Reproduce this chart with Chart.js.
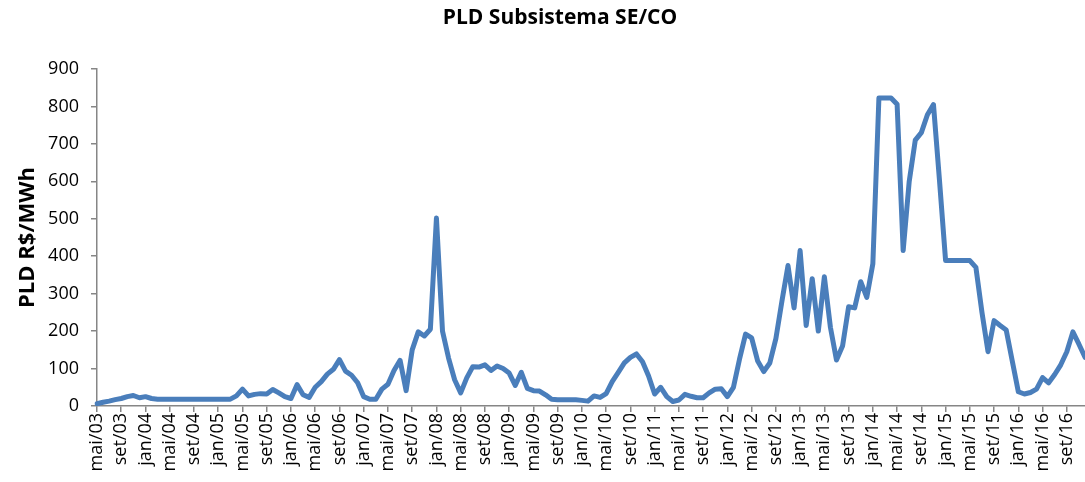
<!DOCTYPE html>
<html>
<head>
<meta charset="utf-8">
<script src="https://cdn.jsdelivr.net/npm/chart.js@4.4.1/dist/chart.umd.min.js"></script>
<style>
  html, body { margin: 0; padding: 0; background: #fff; }
</style>
</head>
<body>
<canvas id="chart" width="1085" height="482"></canvas>
<script>
// PLD medio mensal SE/CO (R$/MWh), mai/03 a dez/16
const months = ['jan', 'fev', 'mar', 'abr', 'mai', 'jun', 'jul', 'ago', 'set', 'out', 'nov', 'dez'];
const years = [2003, 2004, 2005, 2006, 2007, 2008, 2009, 2010, 2011, 2012, 2013, 2014, 2015, 2016];

const pld2003 = [6, 10, 13, 17, 20, 25, 28, 22]; // mai-dez
const pld2004 = [25, 20, 18.3, 18.3, 18.3, 18.3, 18.3, 18.3, 18.3, 18.3, 18.3, 18.3];
const pld2005 = [18.3, 18.3, 18.3, 27, 45, 27, 31, 33, 32, 44, 35, 25];
const pld2006 = [20, 57, 30, 23, 50, 65, 85, 98, 124, 93, 82, 62];
const pld2007 = [25, 18, 18, 45, 58, 95, 122, 41, 150, 198, 187, 205];
const pld2008 = [502, 200, 128, 70, 35, 75, 105, 104, 110, 95, 107, 100];
const pld2009 = [88, 55, 90, 47, 41, 40, 30, 18, 16.5, 16.5, 16.5, 16.5];
const pld2010 = [15, 13, 27, 23, 33, 65, 90, 115, 130, 139, 118, 80];
const pld2011 = [32, 50, 25, 12, 16, 31, 26, 22, 22, 35, 45, 46];
const pld2012 = [25, 50, 125, 192, 182, 120, 92, 115, 180, 280, 375, 262];
const pld2013 = [415, 215, 340, 200, 345, 210, 123, 160, 265, 262, 332, 290];
const pld2014 = [380, 822.83, 822.83, 822.83, 806, 415, 600, 710, 730, 778, 805, 601];
const pld2015 = [388.48, 388.48, 388.48, 388.48, 388.48, 370, 250, 145, 228, 215, 203, 120];
const pld2016 = [38, 32, 36, 45, 76, 62, 84, 110, 145, 198, 165, 130];

const byYear = [pld2003, pld2004, pld2005, pld2006, pld2007, pld2008, pld2009,
  pld2010, pld2011, pld2012, pld2013, pld2014, pld2015, pld2016];

const labels = [];
const values = [];
byYear.forEach((arr, k) => {
  const first = k === 0 ? 4 : 0;
  arr.forEach((v, j) => {
    labels.push(months[first + j] + '/' + String(years[k]).slice(2));
    values.push(v);
  });
});

const font = "'Open Sans', sans-serif";
const axisColor = '#868686';

// titulo deslocado como no original (nao centrado no canvas)
const titlePlugin = {
  id: 'topTitle',
  afterDraw(chart) {
    const c = chart.ctx;
    c.save();
    c.font = "bold 21px " + font;
    c.fillStyle = '#000';
    c.textAlign = 'center';
    c.textBaseline = 'middle';
    c.fillText('PLD Subsistema SE/CO', 560, 18);
    c.restore();
  }
};

const ctx = document.getElementById('chart').getContext('2d');

new Chart(ctx, {
  type: 'line',
  data: {
    labels,
    datasets: [{
      label: 'PLD',
      data: values,
      borderColor: '#4a7ebb',
      borderWidth: 5,
      pointRadius: 0,
      tension: 0,
      borderJoinStyle: 'round',
      borderCapStyle: 'round'
    }]
  },
  options: {
    responsive: false,
    animation: false,
    layout: { padding: { top: 69, right: 0, bottom: 0, left: 0 } },
    plugins: {
      legend: { display: false },
      tooltip: { enabled: false }
    },
    scales: {
      x: {
        offset: false,
        grid: { drawOnChartArea: false, drawTicks: true, tickLength: 6, color: axisColor, lineWidth: 1.5 },
        border: { display: true, color: axisColor, width: 1.5 },
        ticks: {
          autoSkip: false,
          minRotation: 90,
          maxRotation: 90,
          padding: 1,
          color: '#000',
          font: { family: font, size: 18 },
          callback: function (val, index) {
            return index % 4 === 0 ? this.getLabelForValue(val) : null;
          }
        },
        afterFit: s => { s.height = 76; s.paddingLeft = 0; s.paddingRight = 0; }
      },
      y: {
        min: 0,
        max: 900,
        grid: { drawOnChartArea: false, drawTicks: true, tickLength: 6, color: axisColor, lineWidth: 1.5 },
        border: { display: true, color: axisColor, width: 1.5 },
        ticks: {
          stepSize: 100,
          padding: 12,
          color: '#000',
          font: { family: font, size: 18 }
        },
        title: {
          display: true,
          text: 'PLD R$/MWh',
          color: '#000',
          font: { family: font, size: 22, weight: 'bold' },
          padding: { top: 15, bottom: 0 }
        },
        afterFit: s => { s.width = 97; s.paddingTop = 0; s.paddingBottom = 0; }
      }
    }
  },
  plugins: [titlePlugin]
});
</script>
</body>
</html>
